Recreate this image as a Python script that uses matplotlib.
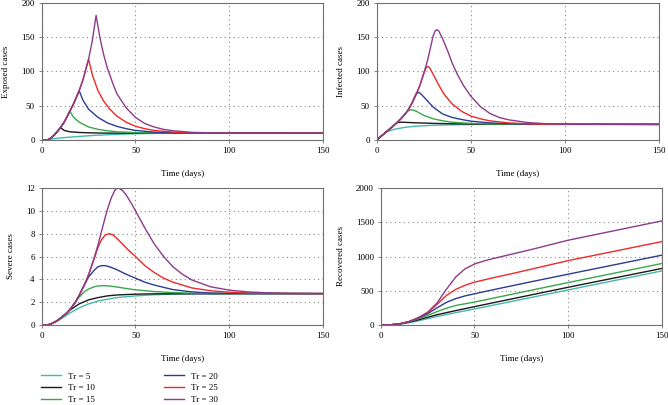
import numpy as np
import matplotlib
matplotlib.use("Agg")
import matplotlib.pyplot as plt
from matplotlib.lines import Line2D

plt.rcParams['font.family'] = ['Liberation Serif', 'DejaVu Serif']

labels = ['Tr = 5', 'Tr = 10', 'Tr = 15', 'Tr = 20', 'Tr = 25', 'Tr = 30']
colors = ['#45b8aa', '#1a1a1a', '#3aa64c', '#2d3b93', '#ec2a2a', '#8c3b8c']

# ---- exposed cases: (time, value) per Tr
exp_t = [
    [0, 3, 5, 10, 15, 20, 25, 30, 40, 50, 60, 80, 150],
    [0, 3, 5, 7, 10, 12, 15, 20, 25, 30, 40, 150],
    [0, 3, 5, 7, 10, 12, 15, 17, 20, 25, 30, 35, 40, 50, 60, 150],
    [0, 3, 5, 7, 10, 12, 15, 17, 20, 22, 25, 30, 35, 40, 45, 50, 60, 70, 80, 150],
    [0, 3, 5, 7, 10, 12, 15, 17, 20, 22, 25, 27, 30, 33, 36, 40, 45, 50, 55, 60, 70, 80, 90, 150],
    [0, 3, 5, 7, 10, 12, 15, 17, 20, 22, 25, 27, 29, 31, 33, 35, 38, 40, 45, 50, 55, 60, 65, 70, 80, 90, 100, 150],
]
exp_v = [
    [0, 0, 1.5, 3, 4.2, 5.2, 6.2, 7, 8.3, 9.2, 9.6, 9.9, 10],
    [0, 0, 3, 8, 18, 14, 12, 11, 10.5, 10.2, 10, 10],
    [0, 0, 3, 8, 18, 26, 42, 33, 26, 19, 15.5, 13.5, 12, 10.8, 10.2, 10],
    [0, 0, 3, 8, 18, 26, 42, 53, 72, 58, 45, 33, 25, 20, 16.5, 14, 11.5, 10.5, 10.1, 10],
    [0, 0, 3, 8, 18, 26, 42, 53, 72, 88, 118, 95, 72, 57, 46, 35, 26, 20, 16.5, 14, 11.5, 10.4, 10.1, 10],
    [0, 0, 3, 8, 18, 26, 42, 53, 72, 88, 118, 145, 182, 150, 125, 105, 82, 68, 47, 33, 24, 19, 15.5, 13.5, 11.2, 10.4, 10.1, 10],
]

# ---- infected cases
inf_t = [
    [0, 3, 5, 8, 10, 15, 20, 30, 40, 50, 60, 150],
    [0, 3, 6, 9, 11, 13, 15, 20, 30, 40, 50, 60, 80, 150],
    [0, 3, 6, 9, 11, 13, 15, 16, 17, 18, 19, 21, 25, 30, 35, 40, 50, 60, 70, 150],
    [0, 3, 6, 9, 11, 13, 15, 17, 19, 20, 21, 22, 23, 25, 30, 35, 40, 45, 50, 60, 70, 80, 150],
    [0, 3, 6, 9, 11, 13, 15, 17, 19, 21, 23, 24, 25, 26, 27, 28, 30, 33, 36, 40, 45, 50, 55, 60, 70, 80, 90, 150],
    [0, 3, 6, 9, 11, 13, 15, 17, 19, 21, 23, 25, 27, 28, 29, 30, 31, 32, 33, 35, 38, 40, 43, 46, 50, 55, 60, 65, 70, 80, 90, 100, 150],
]
inf_v = [
    [0, 7, 11.5, 14.5, 16, 18.5, 20, 21.5, 22.2, 22.6, 22.8, 22.8],
    [0, 7, 14, 21, 25.5, 26, 25.8, 25.2, 24.3, 23.7, 23.3, 23, 22.9, 22.8],
    [0, 7, 14, 21, 26, 31.5, 37.5, 41, 43, 44, 43.8, 42, 36, 31, 28, 26, 24.2, 23.4, 23, 22.8],
    [0, 7, 14, 21, 26, 31.5, 37.5, 45, 55, 62, 67.5, 69.5, 68.5, 63, 48, 38, 33, 30, 27.5, 25, 23.8, 23.1, 22.8],
    [0, 7, 14, 21, 26, 31.5, 37.5, 45, 55, 67, 80, 89, 97, 104, 107.5, 106, 96, 80, 66, 53, 42, 35, 31, 28, 25, 23.6, 23, 22.8],
    [0, 7, 14, 21, 26, 31.5, 37.5, 45, 55, 67, 80, 97, 116, 128, 140, 152, 159, 161, 159, 148, 128, 113, 95, 80, 64, 49, 39, 33, 29.5, 25.5, 23.8, 23, 22.8],
]

# ---- severe cases
sev_t = [
    [0, 3, 5, 8, 10, 15, 20, 25, 30, 35, 40, 50, 60, 70, 80, 150],
    [0, 3, 5, 8, 10, 13, 15, 20, 25, 30, 35, 40, 50, 60, 150],
    [0, 3, 5, 8, 10, 13, 15, 18, 20, 23, 25, 28, 30, 33, 36, 40, 45, 50, 60, 70, 80, 90, 150],
    [0, 3, 5, 8, 10, 13, 15, 18, 20, 23, 25, 28, 30, 32, 34, 37, 40, 45, 50, 55, 60, 70, 80, 90, 100, 150],
    [0, 3, 5, 8, 10, 13, 15, 18, 20, 23, 25, 28, 30, 32, 34, 36, 38, 40, 43, 46, 50, 55, 60, 65, 70, 80, 90, 100, 110, 120, 150],
    [0, 3, 5, 8, 10, 13, 15, 18, 20, 23, 25, 28, 30, 33, 35, 37, 39, 40, 41, 43, 45, 48, 50, 55, 60, 65, 70, 75, 80, 90, 100, 110, 120, 130, 150],
]
sev_v = [
    [0, 0, 0.1, 0.3, 0.5, 1.05, 1.5, 1.85, 2.1, 2.25, 2.4, 2.55, 2.65, 2.7, 2.73, 2.75],
    [0, 0, 0.1, 0.35, 0.6, 1.0, 1.3, 1.85, 2.2, 2.4, 2.55, 2.63, 2.7, 2.73, 2.75],
    [0, 0, 0.1, 0.35, 0.6, 1.0, 1.35, 2.0, 2.45, 2.95, 3.15, 3.35, 3.42, 3.45, 3.42, 3.33, 3.2, 3.08, 2.93, 2.84, 2.79, 2.77, 2.75],
    [0, 0, 0.1, 0.35, 0.6, 1.0, 1.35, 2.0, 2.6, 3.6, 4.2, 4.8, 5.1, 5.2, 5.2, 5.05, 4.85, 4.45, 4.1, 3.75, 3.5, 3.1, 2.9, 2.8, 2.77, 2.75],
    [0, 0, 0.1, 0.35, 0.6, 1.0, 1.35, 2.0, 2.6, 3.6, 4.4, 5.8, 6.8, 7.5, 7.9, 8.0, 7.9, 7.6, 7.1, 6.6, 6.0, 5.2, 4.6, 4.1, 3.75, 3.25, 3.0, 2.87, 2.8, 2.77, 2.75],
    [0, 0, 0.1, 0.35, 0.6, 1.0, 1.35, 2.0, 2.6, 3.6, 4.4, 5.9, 7.0, 8.9, 10.1, 11.1, 11.8, 11.95, 12.0, 11.8, 11.4, 10.6, 10.0, 8.5, 7.1, 6.0, 5.1, 4.45, 3.95, 3.35, 3.05, 2.9, 2.82, 2.78, 2.75],
]

# ---- recovered cases
rec_t = [
    [0, 5, 10, 15, 20, 30, 40, 50, 75, 100, 125, 150],
    [0, 5, 10, 15, 20, 30, 40, 50, 100, 150],
    [0, 5, 10, 15, 20, 25, 30, 35, 40, 50, 100, 150],
    [0, 5, 10, 15, 20, 25, 30, 35, 40, 45, 50, 60, 80, 100, 150],
    [0, 5, 10, 15, 20, 25, 30, 35, 40, 45, 50, 60, 70, 100, 150],
    [0, 5, 10, 15, 20, 25, 30, 35, 40, 45, 50, 55, 60, 70, 80, 100, 150],
]
rec_v = [
    [0, 2, 12, 32, 60, 125, 180, 234, 373, 512, 651, 790],
    [0, 2, 14, 40, 75, 150, 210, 268, 551, 826],
    [0, 3, 16, 45, 90, 140, 195, 245, 285, 335, 620, 898],
    [0, 3, 17, 48, 100, 165, 250, 330, 385, 425, 455, 515, 630, 742, 1020],
    [0, 3, 17, 50, 105, 180, 300, 430, 520, 580, 625, 690, 750, 940, 1218],
    [0, 3, 17, 50, 105, 185, 320, 520, 700, 820, 890, 935, 970, 1035, 1100, 1238, 1520],
]

W, H = 668, 405
fig = plt.figure(figsize=(W / 100, H / 100), dpi=100)


def box(l, r, t, b):
    return [l / W, 1 - b / H, (r - l) / W, (b - t) / H]


panels = [
    (box(41.7, 323, 3, 140), exp_t, exp_v, 'Exposed cases', (0, 200), [0, 50, 100, 150, 200]),
    (box(376.7, 659, 3, 140), inf_t, inf_v, 'Infected cases', (0, 200), [0, 50, 100, 150, 200]),
    (box(41.7, 323, 188, 325), sev_t, sev_v, 'Severe cases', (0, 12), [0, 2, 4, 6, 8, 10, 12]),
    (box(380.7, 662, 188, 325), rec_t, rec_v, 'Recovered cases', (0, 2000), [0, 500, 1000, 1500, 2000]),
]

for rect, ts, vs, ylab, ylim, yt in panels:
    ax = fig.add_axes(rect)
    for t, v, c in zip(ts, vs, colors):
        ax.plot(t, v, color=c, lw=1.0)
    ax.set_xlim(0, 150)
    ax.set_ylim(*ylim)
    ax.set_xticks([0, 50, 100, 150])
    ax.set_yticks(yt)
    ax.grid(True, color='#888888', lw=0.8, ls=(0, (1, 3)))
    for s in ax.spines.values():
        s.set_color('#707070')
        s.set_linewidth(0.8)
    ax.tick_params(labelsize=6.5, length=2, width=0.6, color='#707070', pad=3)
    ax.set_ylabel(ylab, fontsize=6.5, labelpad=8)
    ax.set_xlabel('Time (days)', fontsize=6.5, labelpad=11)

handles = [Line2D([], [], color=c, lw=1.0) for c in colors]
fig.legend(handles, labels, ncol=2, loc='upper left', bbox_to_anchor=(38.5 / W, 1 - 369.5 / H),
           frameon=False, fontsize=6.5, handlelength=2.2, columnspacing=7.6,
           labelspacing=0.4, handletextpad=0.8, borderaxespad=0, borderpad=0.3)

fig.savefig('out.png', dpi=100)
